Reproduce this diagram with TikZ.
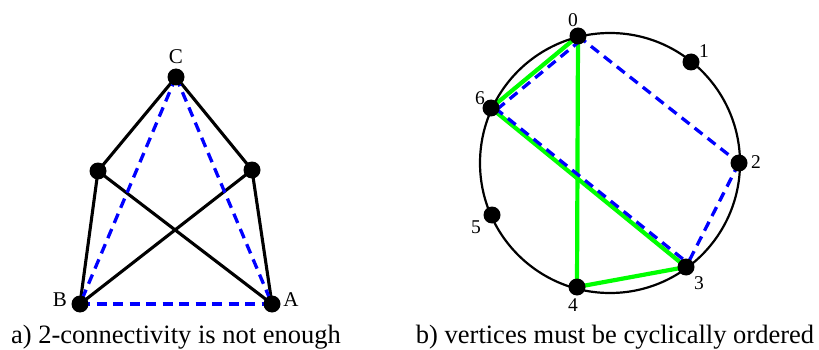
\documentclass[tikz,border=0pt]{standalone}
\usepackage{fontspec}
\setmainfont{Liberation Serif}
\usetikzlibrary{backgrounds}
\begin{document}
\begin{tikzpicture}[x=1pt,y=-1pt,
  dot/.style={circle,fill=black,inner sep=0pt,minimum size=17pt},
  solidedge/.style={line width=3.1pt,black},
  bluedash/.style={line width=3.3pt,blue,dash pattern=on 10pt off 6.5pt},
  greenedge/.style={line width=4.2pt,green},
  lbl/.style={font=\fontsize{21}{23}\selectfont,inner sep=0pt},
  num/.style={font=\fontsize{19.5}{21}\selectfont,inner sep=0pt},
  captext/.style={font=\fontsize{26.5}{29}\selectfont,inner sep=0pt}]
\useasboundingbox (0,0) rectangle (819,350);
% left graph
\node[dot] (C) at (176,77) {};
\node[dot] (L) at (98,171) {};
\node[dot] (R) at (252,170) {};
\node[dot] (B) at (80,304) {};
\node[dot] (A) at (272,304) {};
\node[lbl] (lC) at (176,57) {C};
\node[lbl] (lB) at (60,300) {B};
\node[lbl] (lA) at (291,300) {A};
\begin{scope}[on background layer]
\draw[solidedge] (C.center) -- (L.center);
\draw[solidedge] (C.center) -- (R.center);
\draw[solidedge] (L.center) -- (B.center);
\draw[solidedge] (L.center) -- (A.center);
\draw[solidedge] (R.center) -- (B.center);
\draw[solidedge] (R.center) -- (A.center);
\draw[bluedash] (C.center) -- (B.center);
\draw[bluedash] (C.center) -- (A.center);
\draw[bluedash] (B.center) -- (A.center);
\end{scope}
% right graph
\node[circle,draw,line width=2.2pt,minimum size=260pt,inner sep=0pt] (ring) at (610,163) {};
\node[dot] (v0) at (578,36) {};
\node[dot] (v1) at (691,62) {};
\node[dot] (v2) at (739,163) {};
\node[dot] (v3) at (686,267) {};
\node[dot] (v4) at (577,287) {};
\node[dot] (v5) at (492,215) {};
\node[dot] (v6) at (491,108) {};
\node[num] (n0) at (573,20) {0};
\node[num] (n1) at (704,51) {1};
\node[num] (n2) at (756,162) {2};
\node[num] (n3) at (699,283) {3};
\node[num] (n4) at (573,305) {4};
\node[num] (n5) at (476,227) {5};
\node[num] (n6) at (480,98) {6};
\begin{scope}[on background layer]
\draw[greenedge] (v0.center) -- (v6.center);
\draw[greenedge] (v0.center) -- (v4.center);
\draw[greenedge] (v6.center) -- (v3.center);
\draw[greenedge] (v4.center) -- (v3.center);
\draw[bluedash] ([shift={(3,4)}]v0.center) -- ([shift={(4,3)}]v6.center);
\draw[bluedash] ([shift={(4,0)}]v6.center) -- ([shift={(3,-3)}]v3.center);
\draw[bluedash] (v0.center) -- (v2.center);
\draw[bluedash] (v2.center) -- (v3.center);
\end{scope}
% captions
\node[captext,anchor=base] (capa) at (176,343) {a) 2-connectivity is not enough};
\node[captext,anchor=base] (capb) at (615,343) {b) vertices must be cyclically ordered};
\end{tikzpicture}
\end{document}
